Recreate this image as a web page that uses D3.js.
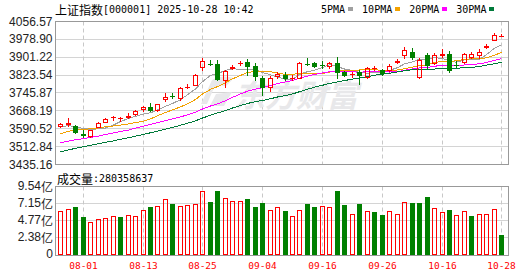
<!DOCTYPE html>
<html><head><meta charset="utf-8">
<script src="https://cdn.jsdelivr.net/npm/d3@7"></script>
<style>
html,body{margin:0;padding:0;background:#fff;}
svg{display:block;}
</style></head><body>
<svg id="chart" width="530" height="276"></svg>
<script>
// ---------------- data ----------------
const titleName = "上证指数";
const titleRest = "[000001] 2025-10-28 10:42";
const volLabel = "成交量";
const lastVolume = 280358637;
const watermark = "东方财富";

const dates = ["07-29","07-30","07-31",
 "08-01","08-04","08-05","08-06","08-07","08-08","08-11","08-12","08-13","08-14","08-15",
 "08-18","08-19","08-20","08-21","08-22","08-25","08-26","08-27","08-28","08-29",
 "09-01","09-02","09-03","09-04","09-05","09-08","09-09","09-10","09-11","09-12",
 "09-15","09-16","09-17","09-18","09-19","09-22","09-23","09-24","09-25","09-26","09-29","09-30",
 "10-09","10-10","10-13","10-14","10-15","10-16","10-17","10-20","10-21","10-22","10-23","10-24","10-27","10-28"];

const open  = [3599,3608,3604,3566,3553,3595,3617,3636,3632,3636,3651,3670,3687,3666,
 3716,3731,3721,3768,3778,3855,3872,3872,3800,3850,
 3872,3880,3865,3812,3767,3815,3822,3808,3808,3874,
 3878,3866,3860,3877,3835,3826,3838,3813,3849,3846,3843,3875,
 3905,3922,3810,3910,3872,3908,3915,3868,3877,3900,3906,3940,3974,3992];
const high  = [3614,3636,3608,3583,3584,3620,3638,3645,3643,3657,3671,3691,3703,3700,
 3746,3744,3770,3787,3830,3896,3891,3888,3845,3866,
 3887,3895,3877,3819,3818,3838,3836,3823,3880,3897,
 3882,3884,3880,3904,3840,3836,3846,3858,3864,3851,3870,3892,
 3946,3941,3900,3921,3918,3936,3929,3884,3920,3922,3936,3957,4006,4001];
const low   = [3594,3596,3568,3550,3549,3592,3614,3625,3621,3631,3648,3665,3663,3662,
 3706,3718,3710,3764,3775,3843,3862,3797,3766,3844,
 3862,3819,3799,3735,3749,3808,3799,3800,3805,3862,
 3855,3849,3852,3806,3815,3813,3780,3805,3840,3820,3838,3870,
 3893,3889,3808,3848,3868,3900,3832,3855,3873,3895,3893,3935,3970,3990];
const close = [3609.71,3615.72,3573.21,3559.95,3583.31,3617.60,3633.99,3639.67,3635.13,3647.55,3665.92,3683.46,3666.44,3696.77,
 3728.03,3727.29,3766.21,3771.10,3825.76,3883.56,3868.38,3800.35,3843.60,3857.93,
 3875.53,3858.13,3813.56,3765.88,3812.51,3826.84,3807.29,3812.22,3875.31,3870.60,
 3860.50,3861.87,3876.34,3831.66,3820.09,3828.58,3821.83,3853.64,3853.30,3828.11,3862.53,3882.78,
 3933.97,3897.03,3889.50,3865.23,3912.21,3916.23,3839.76,3863.89,3916.33,3913.76,3922.41,3950.31,3996.94,3995.00];
// volume in 亿
const volume = [6.17,6.45,6.73,5.24,4.63,5.05,5.19,5.47,5.33,5.61,5.47,6.31,6.64,6.87,
 7.86,7.15,6.87,7.01,7.15,8.98,7.43,8.88,8.00,7.58,
 7.58,7.76,6.64,7.29,6.31,6.73,6.17,5.47,6.31,7.15,
 6.64,6.87,6.73,8.98,7.01,5.75,7.15,6.17,6.03,5.61,6.17,5.75,
 7.43,7.29,7.29,8.14,6.59,6.03,6.31,5.61,6.17,5.47,5.75,5.75,6.45,2.8036];
// closes of the 29 sessions before 07-29 (for moving averages)
const priorCloses = [3388.81,3362.11,3359.90,3381.58,3420.57,3455.97,3448.45,3424.23,3444.43,3457.75,
 3454.79,3461.15,3472.32,3473.13,3497.48,3493.05,3509.68,3510.18,3519.65,3505.00,
 3503.78,3516.83,3534.48,3559.79,3581.86,3582.30,3605.73,3593.66,3597.94];

const priceTicks = [3435.16,3512.84,3590.52,3668.19,3745.87,3823.54,3901.22,3978.90,4056.57];
const volTicks = [0,2.385,4.77,7.155,9.54];
const volTickLabels = ["0","2.38亿","4.77亿","7.15亿","9.54亿"];
const xTickDates = ["08-01","08-13","08-25","09-04","09-16","09-26","10-16","10-28"];
const maPeriods = [5,10,20,30];
const maNames = ["5PMA","10PMA","20PMA","30PMA"];
const maColors = ["#a0a0a0","#f2a100","#ff00ff","#007a3a"];

// ---------------- drawing ----------------
const UP = "#ff0000", DOWN = "#008000";
const MONO = "'DejaVu Sans Mono','Liberation Mono',monospace";
const CJK = "'Noto Sans CJK SC','Noto Sans',sans-serif";
const SANS = "'Liberation Sans',Arial,sans-serif";

const svg = d3.select("#chart");
const L = 55.5, R = 508.5;
const pTop = 21.5, pBot = 164.5, vTop = 186.5, vBot = 255;

const x = d3.scaleBand().domain(dates).range([56.56, 505.06]).padding(0);
const cx = d => Math.round(x(d) + x.bandwidth()/2);
const y = d3.scaleLinear().domain([priceTicks[0], priceTicks[priceTicks.length-1]]).range([pBot, pTop]);
const vy = d3.scaleLinear().domain([0, 9.54]).range([vBot, vTop]);
const half = v => Math.round(v - 0.5) + 0.5;

// title
const t = svg.append("text").attr("x", 55).attr("y", 9).attr("dominant-baseline","central").attr("fill","#000");
t.append("tspan").attr("font-family", CJK).attr("font-size", 12).text(titleName);
t.append("tspan").attr("font-family", MONO).attr("font-size", 10).text(titleRest);

// legend
let lx = 321;
maNames.forEach((n,i) => {
  const tx = svg.append("text").attr("x", lx).attr("y", 9).attr("dominant-baseline","central")
    .attr("font-family", MONO).attr("font-size", 10).attr("fill","#000").text(n);
  const w = tx.node().getComputedTextLength();
  svg.append("rect").attr("x", Math.round(lx + w + 3)).attr("y", 7).attr("width", 5).attr("height", 4).attr("fill", maColors[i]);
  lx += w + 3 + 5 + 9;
});

// price grid
const gp = svg.append("g");
gp.selectAll("line.h").data(priceTicks).join("line")
  .attr("x1", L).attr("x2", R).attr("y1", d => half(y(d))).attr("y2", d => half(y(d)))
  .attr("stroke", "#d4d4d4").attr("stroke-width", 1);
gp.selectAll("line.v").data(xTickDates).join("line")
  .attr("x1", d => cx(d)+0.5).attr("x2", d => cx(d)+0.5).attr("y1", pTop).attr("y2", pBot)
  .attr("stroke", "#c8c8c8").attr("stroke-dasharray","4,3");

// watermark
const wm = svg.append("g").attr("fill", "#e8e8ea");
wm.append("path").attr("d","M201,104 L212,80 Q222,74 234,78 L226,86 Q216,84 213,90 L207,104 Z");
wm.append("path").attr("d","M210,106 L216,94 L232,92 L224,106 Z");
wm.append("text").attr("x", 234).attr("y", 107).attr("font-family", CJK).attr("font-size", 31)
  .attr("font-weight", "bold").attr("font-style","italic").text(watermark);

// price axis labels
svg.append("g").selectAll("text").data(priceTicks).join("text")
  .attr("x", 52.5).attr("y", d => y(d)).attr("text-anchor","end").attr("dominant-baseline","central")
  .attr("font-family", SANS).attr("font-size", 12).attr("fill", "#222")
  .text(d => d.toFixed(2));

// moving averages
const all = priorCloses.concat(close);
const off = priorCloses.length;
maPeriods.forEach((p,k) => {
  const pts = dates.map((d,i) => {
    const s = d3.mean(all.slice(off + i - p + 1, off + i + 1));
    return [cx(d)+0.5, y(s)];
  });
  svg.append("path").attr("d", d3.line()(pts)).attr("fill","none")
    .attr("stroke", maColors[k]).attr("stroke-width", 1).attr("shape-rendering","crispEdges");
});

// candles
const gc = svg.append("g").attr("shape-rendering","crispEdges");
dates.forEach((d,i) => {
  const o = open[i], c = close[i], h = high[i], l = low[i];
  const X = cx(d);
  const yT = Math.round(y(Math.max(o,c))), yB = Math.round(y(Math.min(o,c)));
  const yH = Math.round(y(h)), yL = Math.round(y(l));
  if (c >= o) {
    if (yB - yT >= 2) {
      gc.append("rect").attr("x", X-2+0.5).attr("y", yT+0.5).attr("width", 4).attr("height", yB-yT-1)
        .attr("fill","none").attr("stroke", UP);
      gc.append("rect").attr("x", X).attr("y", yH).attr("width", 1).attr("height", Math.max(0,yT-yH)).attr("fill", UP);
      gc.append("rect").attr("x", X).attr("y", yB).attr("width", 1).attr("height", Math.max(0,yL-yB)).attr("fill", UP);
    } else {
      gc.append("rect").attr("x", X).attr("y", yH).attr("width", 1).attr("height", Math.max(1,yL-yH)).attr("fill", UP);
      gc.append("rect").attr("x", X-2).attr("y", yT).attr("width", 5).attr("height", Math.max(1,yB-yT)).attr("fill", UP);
    }
  } else {
    gc.append("rect").attr("x", X).attr("y", yH).attr("width", 1).attr("height", Math.max(1,yL-yH)).attr("fill", DOWN);
    gc.append("rect").attr("x", X-2).attr("y", yT).attr("width", 5).attr("height", Math.max(1,yB-yT)).attr("fill", DOWN);
  }
});

// price frame
svg.append("rect").attr("x", L).attr("y", pTop).attr("width", R-L).attr("height", pBot-pTop)
  .attr("fill","none").attr("stroke","#999");

// volume label
const vt = svg.append("text").attr("x", 57).attr("y", 178).attr("dominant-baseline","central").attr("fill","#000");
vt.append("tspan").attr("font-family", CJK).attr("font-size", 12).text(volLabel);
vt.append("tspan").attr("font-family", MONO).attr("font-size", 10).text(":" + lastVolume);

// volume grid
const gv = svg.append("g");
gv.selectAll("line.h").data(volTicks.slice(1,-1)).join("line")
  .attr("x1", L).attr("x2", R).attr("y1", d => half(vy(d))).attr("y2", d => half(vy(d)))
  .attr("stroke", "#d4d4d4");
gv.selectAll("line.v").data(xTickDates).join("line")
  .attr("x1", d => cx(d)+0.5).attr("x2", d => cx(d)+0.5).attr("y1", vTop).attr("y2", vBot)
  .attr("stroke", "#c8c8c8").attr("stroke-dasharray","4,3");

svg.append("g").selectAll("text").data(volTicks).join("text")
  .attr("x", 53).attr("y", d => vy(d) - 1).attr("text-anchor","end").attr("dominant-baseline","central")
  .attr("fill", "#222").each(function(d,i){
    const lab = volTickLabels[i];
    const num = lab.replace("亿","");
    const s = d3.select(this);
    s.append("tspan").attr("font-family", SANS).attr("font-size", 12).text(num);
    if (lab.endsWith("亿")) s.append("tspan").attr("font-family", CJK).attr("font-size", 12).text("亿");
  });

// volume bars (colour by change vs previous close)
const gb = svg.append("g").attr("shape-rendering","crispEdges");
dates.forEach((d,i) => {
  const prev = i === 0 ? priorCloses[priorCloses.length-1] : close[i-1];
  const up = close[i] >= prev;
  const X = cx(d);
  const top = Math.round(vy(volume[i]));
  if (up) {
    gb.append("rect").attr("x", X-2+0.5).attr("y", top+0.5).attr("width", 4).attr("height", vBot - top - 1)
      .attr("fill","none").attr("stroke", UP);
  } else {
    gb.append("rect").attr("x", X-2).attr("y", top).attr("width", 5).attr("height", vBot - top).attr("fill", DOWN);
  }
});

svg.append("rect").attr("x", L).attr("y", vTop).attr("width", R-L).attr("height", vBot+0.5-vTop)
  .attr("fill","none").attr("stroke","#999");

// x labels
svg.append("g").selectAll("text").data(xTickDates).join("text")
  .attr("x", d => cx(d)+0.5).attr("y", 265.5).attr("text-anchor","middle").attr("dominant-baseline","central")
  .attr("font-family", MONO).attr("font-size", 9.5).attr("fill", UP).text(d => d);
</script>
</body></html>
